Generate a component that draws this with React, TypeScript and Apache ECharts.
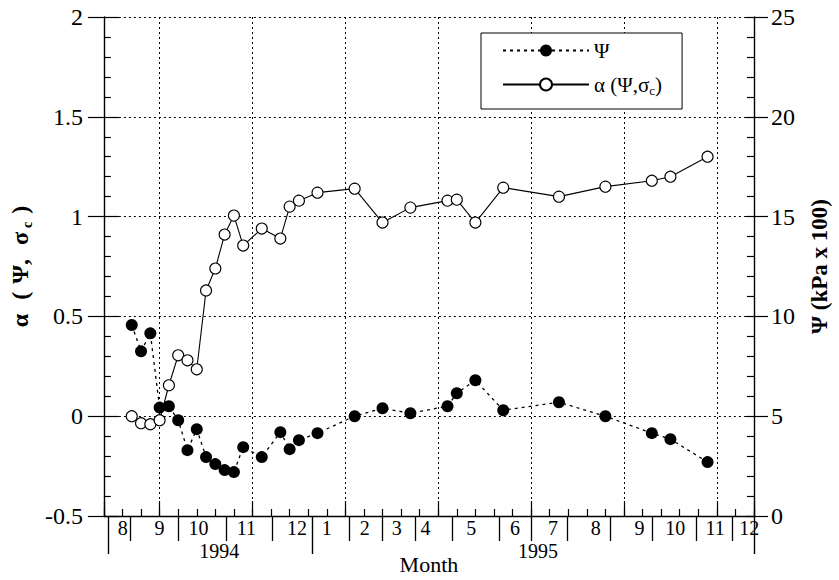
import React, { useEffect, useRef } from 'react';
import * as echarts from 'echarts';

const FONT = '"Liberation Serif", "Times New Roman", serif';
const BLACK = '#000';

// Sampling times, in weeks from the left edge of the time axis
const weeks = [3, 4, 5, 6, 7, 8, 9, 10, 11, 12, 13, 14, 15, 17, 19, 20, 21, 23, 27, 30, 33, 37, 38, 40, 43, 49, 54, 59, 61, 65];

// α(Ψ, σc) — left axis
const alphaValues = [0.0, -0.035, -0.04, -0.02, 0.155, 0.305, 0.28, 0.235, 0.63, 0.74, 0.91, 1.005, 0.855, 0.94, 0.89, 1.05, 1.08, 1.12, 1.14, 0.97, 1.045, 1.08, 1.085, 0.97, 1.145, 1.1, 1.15, 1.18, 1.2, 1.3];

// Ψ (kPa x 100) — right axis
const psiValues = [9.57, 8.25, 9.15, 5.43, 5.5, 4.8, 3.3, 4.35, 2.95, 2.6, 2.3, 2.2, 3.45, 2.95, 4.2, 3.35, 3.8, 4.15, 5.0, 5.4, 5.15, 5.5, 6.15, 6.8, 5.3, 5.7, 5.0, 4.15, 3.85, 2.7];

// Month labels along the time axis
const monthLabels = ['8', '9', '10', '11', '12', '1', '2', '3', '4', '5', '6', '7', '8', '9', '10', '11', '12'];
const monthLabelWeeks = [2.04, 6.0, 10.18, 15.33, 20.8, 24.0, 28.09, 31.52, 34.62, 39.56, 44.27, 48.35, 52.96, 57.67, 61.53, 65.82, 69.5];
const monthBoundaryWeeks = [2.89, 8.04, 13.19, 18.12, 26.37, 30.0, 33.55, 37.52, 42.56, 45.99, 49.85, 54.56, 59.06, 63.78, 67.64];
const yearBoundaryWeeks = [0.43, 22.4, 70];
const yearLabels = ['1994', '1995'];
const yearLabelWeeks = [12.43, 46.74];

// Time axis: 0–70 weeks, a small tick every 2 weeks
const X_MIN = 0;
const X_MAX = 70;
const X_MINOR_STEP = 2;

const nearest = (arr: number[], v: number) => {
  let best = 0;
  for (let i = 1; i < arr.length; i++) if (Math.abs(arr[i] - v) < Math.abs(arr[best] - v)) best = i;
  return best;
};

const SERIES_PSI = 'Ψ';
const SERIES_ALPHA = 'α (Ψ,σc)';

export default function App() {
  const ref = useRef<HTMLDivElement>(null);
  useEffect(() => {
    const chart = echarts.init(ref.current!, null, { renderer: 'svg' });
    const dotted = { color: BLACK, type: [2, 3] as any, width: 1 };
    const tickLine = { color: BLACK, width: 1.2 };
    const minorTickValues: number[] = [];
    for (let v = X_MIN; v <= X_MAX; v += X_MINOR_STEP) minorTickValues.push(v);
    const titleTok = { fontFamily: FONT, fontSize: 24, fontWeight: 'bold', color: BLACK, padding: [0, 4, 0, 4] };
    const option: any = {
      animation: false,
      backgroundColor: '#fff',
      textStyle: { fontFamily: FONT, color: BLACK },
      grid: { left: 103, right: 83, top: 17, bottom: 63 },
      legend: {
        orient: 'vertical',
        left: 481,
        top: 33,
        itemWidth: 86,
        itemHeight: 15,
        itemGap: 13,
        padding: [7, 20, 12, 21],
        borderColor: BLACK,
        borderWidth: 1,
        backgroundColor: '#fff',
        data: [SERIES_PSI, SERIES_ALPHA],
        formatter: (name: string) => (name === SERIES_PSI ? '{a|Ψ}' : '{a|α (Ψ,σ}{s|c}{a|)}'),
        textStyle: {
          fontFamily: FONT,
          color: BLACK,
          fontSize: 21,
          rich: {
            a: { fontFamily: FONT, fontSize: 21, color: BLACK },
            s: { fontFamily: FONT, fontSize: 13, color: BLACK, padding: [12, 0, 0, 0] },
          },
        },
      },
      xAxis: [
        {
          type: 'value', position: 'bottom', min: X_MIN, max: X_MAX, interval: X_MINOR_STEP,
          axisLine: { show: true, onZero: false, lineStyle: { color: BLACK, width: 1.4 } },
          axisTick: { show: false },
          axisLabel: { show: false },
          splitLine: { show: false },
          name: 'Month', nameLocation: 'middle', nameGap: 37,
          nameTextStyle: { fontFamily: FONT, fontSize: 22, color: BLACK },
        },
        {
          type: 'value', position: 'bottom', min: -6, max: 64, splitNumber: 7,
          axisLine: { show: false, onZero: false },
          axisTick: { show: true, inside: true, length: 15, lineStyle: tickLine },
          axisLabel: { show: false },
          splitLine: { show: true, showMinLine: false, showMaxLine: false, lineStyle: dotted },
        },
        {
          type: 'value', position: 'bottom', min: X_MIN, max: X_MAX,
          axisLine: { show: false, onZero: false },
          axisTick: { show: true, inside: false, length: 25, customValues: monthBoundaryWeeks, lineStyle: { color: BLACK, width: 1.3 } },
          axisLabel: {
            show: true, customValues: monthLabelWeeks, margin: 2,
            formatter: (v: number) => monthLabels[nearest(monthLabelWeeks, v)],
            fontFamily: FONT, fontSize: 20, color: BLACK,
          },
          splitLine: { show: false },
        },
        {
          type: 'value', position: 'bottom', min: X_MIN, max: X_MAX,
          axisLine: { show: false, onZero: false },
          axisTick: { show: true, inside: false, length: 38, customValues: yearBoundaryWeeks, lineStyle: { color: BLACK, width: 1.4 } },
          axisLabel: {
            show: true, customValues: yearLabelWeeks, margin: 25,
            formatter: (v: number) => yearLabels[nearest(yearLabelWeeks, v)],
            fontFamily: FONT, fontSize: 20, color: BLACK,
          },
          splitLine: { show: false },
        },
        {
          type: 'value', position: 'bottom', min: X_MIN, max: X_MAX,
          axisLine: { show: false, onZero: false },
          axisTick: { show: true, inside: true, length: 7, customValues: minorTickValues, lineStyle: tickLine },
          axisLabel: { show: false },
          splitLine: { show: false },
        },
      ],
      yAxis: [
        {
          type: 'value', position: 'left', min: -0.5, max: 2, interval: 0.5,
          axisLine: { show: true, onZero: false, lineStyle: { color: BLACK, width: 1.4 } },
          axisTick: { show: true, inside: true, length: 15, lineStyle: tickLine },
          minorTick: { show: true, splitNumber: 5, length: 7, lineStyle: tickLine },
          axisLabel: { margin: 21, fontFamily: FONT, fontSize: 24, color: BLACK },
          splitLine: { show: true, lineStyle: dotted },
          name: '{b|α }{b|(}{b|Ψ, }{b|σ}{s|c}{b|)}', nameLocation: 'middle', nameRotate: 90, nameGap: 62,
          nameTextStyle: {
            rich: {
              b: titleTok,
              s: { fontFamily: FONT, fontSize: 14, fontWeight: 'bold', color: BLACK, padding: [14, 4, 0, 0] },
            },
          },
        },
        {
          type: 'value', position: 'left', min: -0.5, max: 2, interval: 0.5,
          axisLine: { show: false, onZero: false },
          axisTick: { show: true, inside: false, length: 16, lineStyle: tickLine },
          axisLabel: { show: false },
          splitLine: { show: false },
        },
        {
          type: 'value', position: 'right', min: 0, max: 25, interval: 5,
          axisLine: { show: true, onZero: false, lineStyle: { color: BLACK, width: 1.4 } },
          axisTick: { show: true, inside: true, length: 8, lineStyle: tickLine },
          minorTick: { show: true, splitNumber: 5, length: 7, lineStyle: tickLine },
          axisLabel: { margin: 17, fontFamily: FONT, fontSize: 24, color: BLACK },
          splitLine: { show: false },
          name: 'Ψ (kPa x 100)', nameLocation: 'middle', nameRotate: 90, nameGap: 54,
          nameTextStyle: { fontFamily: FONT, fontSize: 23, fontWeight: 'bold', color: BLACK },
        },
        {
          type: 'value', position: 'right', min: 0, max: 25, interval: 5,
          axisLine: { show: false, onZero: false },
          axisTick: { show: true, inside: false, length: 14, lineStyle: tickLine },
          axisLabel: { show: false },
          splitLine: { show: false },
        },
      ],
      series: [
        {
          name: SERIES_PSI, type: 'line', xAxisIndex: 0, yAxisIndex: 2,
          data: weeks.map((w, i) => [w, psiValues[i]]),
          symbol: 'circle', symbolSize: 12,
          itemStyle: { color: BLACK },
          lineStyle: { color: BLACK, width: 1.3, type: [3, 4] },
          z: 3,
        },
        {
          name: SERIES_ALPHA, type: 'line', xAxisIndex: 0, yAxisIndex: 0,
          data: weeks.map((w, i) => [w, alphaValues[i]]),
          symbol: 'circle', symbolSize: 11,
          itemStyle: { color: '#fff', borderColor: BLACK, borderWidth: 1.1 },
          lineStyle: { color: BLACK, width: 1.1, type: 'solid' },
          z: 2,
        },
      ],
    };
    chart.setOption(option);
    return () => chart.dispose();
  }, []);
  return <div ref={ref} style={{ position: 'absolute', left: 0, top: 0, width: 839, height: 580 }} />;
}
